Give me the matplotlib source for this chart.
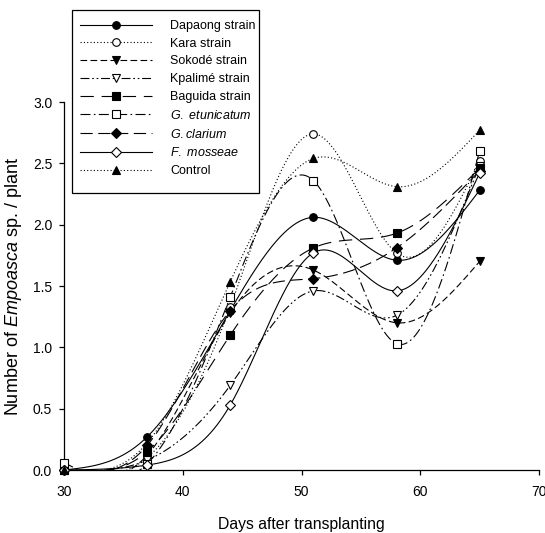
import numpy as np
import matplotlib
matplotlib.use("Agg")
import matplotlib.pyplot as plt
from matplotlib.patches import Rectangle

plt.rcParams['font.family'] = ['Liberation Sans', 'DejaVu Sans']
plt.rcParams['mathtext.fontset'] = 'custom'
plt.rcParams['mathtext.rm'] = 'Liberation Sans'
plt.rcParams['mathtext.it'] = 'Liberation Sans:italic'

days = [30, 37, 44, 51, 58, 65]

labels = ["Dapaong strain", "Kara strain", "Sokodé strain", "Kpalimé strain",
          "Baguida strain", r"$\mathit{G.\ etunicatum}$", r"$\mathit{G.clarium}$",
          r"$\mathit{F.\ mosseae}$", "Control"]

dapaong = [0.00, 0.27, 1.30, 2.06, 1.71, 2.28]
kara = [0.00, 0.10, 1.33, 2.74, 1.77, 2.52]
sokode = [0.00, 0.12, 1.28, 1.63, 1.20, 1.70]
kpalime = [0.00, 0.08, 0.69, 1.46, 1.26, 2.48]
baguida = [0.00, 0.15, 1.10, 1.81, 1.93, 2.46]
g_etunicatum = [0.06, 0.05, 1.41, 2.36, 1.03, 2.60]
g_clarium = [0.00, 0.20, 1.30, 1.56, 1.81, 2.44]
f_mosseae = [0.00, 0.04, 0.53, 1.77, 1.46, 2.42]
control = [0.00, 0.22, 1.535, 2.54, 2.31, 2.77]

series = [dapaong, kara, sokode, kpalime, baguida, g_etunicatum, g_clarium, f_mosseae, control]

styles = [
    dict(ls='-', marker='o', mfc='black'),
    dict(ls=(0, (1, 2)), marker='o', mfc='white'),
    dict(ls=(0, (6, 3)), marker='v', mfc='black'),
    dict(ls=(0, (8, 2.5, 1.5, 2.5, 1.5, 2.5)), marker='v', mfc='white'),
    dict(ls=(0, (12, 7)), marker='s', mfc='black'),
    dict(ls=(0, (9, 3, 1.5, 3)), marker='s', mfc='white'),
    dict(ls=(0, (11, 5)), marker='D', mfc='black'),
    dict(ls='-', marker='D', mfc='white'),
    dict(ls=(0, (1, 2)), marker='^', mfc='black'),
]


def natural_spline(x, y, xs):
    x = np.asarray(x, float)
    y = np.asarray(y, float)
    n = len(x)
    h = np.diff(x)
    A = np.zeros((n, n))
    b = np.zeros(n)
    A[0, 0] = 1
    A[-1, -1] = 1
    for i in range(1, n - 1):
        A[i, i - 1] = h[i - 1]
        A[i, i] = 2 * (h[i - 1] + h[i])
        A[i, i + 1] = h[i]
        b[i] = 6 * ((y[i + 1] - y[i]) / h[i] - (y[i] - y[i - 1]) / h[i - 1])
    M = np.linalg.solve(A, b)
    out = np.empty_like(xs)
    idx = np.clip(np.searchsorted(x, xs) - 1, 0, n - 2)
    for k, t in enumerate(xs):
        i = idx[k]
        a = x[i + 1] - t
        c = t - x[i]
        hi = h[i]
        out[k] = (M[i] * a ** 3 / (6 * hi) + M[i + 1] * c ** 3 / (6 * hi)
                  + (y[i] / hi - M[i] * hi / 6) * a + (y[i + 1] / hi - M[i + 1] * hi / 6) * c)
    return out


fig = plt.figure(figsize=(5.45, 5.33), dpi=100)
ax = fig.add_axes([64 / 545, 63 / 533, 475 / 545, 368 / 533])

xs = np.linspace(days[0], days[-1], 400)
handles = []
for vals, st, lab in zip(series, styles, labels):
    ys = natural_spline(days, vals, xs)
    ax.plot(xs, ys, color='black', lw=0.8, ls=st['ls'], clip_on=True)
    ax.plot(days, vals, ls='none', marker=st['marker'], mfc=st['mfc'], mec='black',
            ms=5.5, mew=0.8, clip_on=False, zorder=3)
    h, = ax.plot([], [], color='black', lw=0.8, ls=st['ls'], marker=st['marker'],
                 mfc=st['mfc'], mec='black', ms=5.5, mew=0.8, label=lab)
    handles.append(h)

ax.set_xlim(30, 70)
ax.set_ylim(0, 3.0)
ax.set_xticks([30, 40, 50, 60, 70])
ax.set_yticks([0.0, 0.5, 1.0, 1.5, 2.0, 2.5, 3.0])
ax.set_yticklabels(['0.0', '0.5', '1.0', '1.5', '2.0', '2.5', '3.0'])
ax.spines['top'].set_visible(False)
ax.spines['right'].set_visible(False)
for s in ('left', 'bottom'):
    ax.spines[s].set_linewidth(0.9)
ax.tick_params(direction='out', length=3.5, width=0.9, labelsize=10)
ax.tick_params(axis='x', pad=7)
ax.tick_params(axis='y', pad=5)
ax.set_xlabel('Days after transplanting', fontsize=11.3, labelpad=13)
ax.set_ylabel(r'Number of $\mathit{Empoasca}$ sp. / plant', fontsize=13, labelpad=6)

leg = fig.legend(handles=handles, loc='upper left', bbox_to_anchor=(80 / 545, 1 - 20 / 533),
                 frameon=False, fontsize=9, handlelength=5.76, numpoints=1,
                 labelspacing=0.46, handletextpad=1.44, borderpad=0, borderaxespad=0)
fig.patches.append(Rectangle((72 / 545, 1 - 193 / 533), 187 / 545, 183 / 533,
                             transform=fig.transFigure, fill=False, lw=0.9, ec='black'))

fig.savefig('out.png', dpi=100)
